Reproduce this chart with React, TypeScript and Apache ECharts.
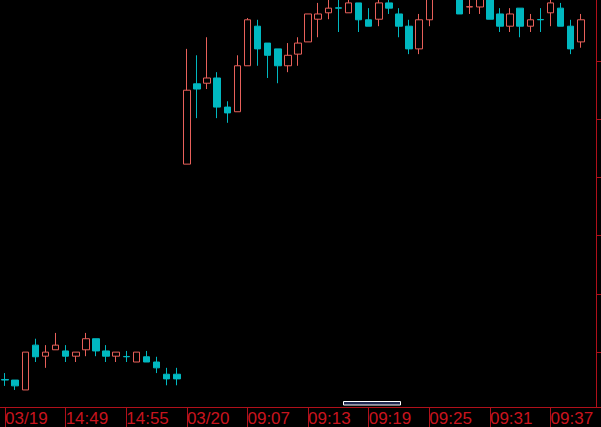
import React, { useEffect, useRef } from "react";
import * as echarts from "echarts";

const categories = [
  "14:43", "14:44", "14:45", "14:46", "14:47", "14:48", "14:49", "14:50", "14:51", "14:52",
  "14:53", "14:54", "14:55", "14:56", "14:57", "14:58", "14:59", "15:00",
  "09:01", "09:02", "09:03", "09:04", "09:05", "09:06", "09:07", "09:08", "09:09", "09:10",
  "09:11", "09:12", "09:13", "09:14", "09:15", "09:16", "09:17", "09:18", "09:19", "09:20",
  "09:21", "09:22", "09:23", "09:24", "09:25", "09:26", "09:27", "09:28", "09:29", "09:30",
  "09:31", "09:32", "09:33", "09:34", "09:35", "09:36", "09:37", "09:38", "09:39", "09:40",
  "09:41",
];

const tickLabels = ["03/19", "14:49", "14:55", "03/20", "09:07", "09:13", "09:19", "09:25", "09:31", "09:37"];

const opens = [
  9.53, 9.52, 9.35, 10.12, 9.93, 10.04, 10.02, 9.93, 10.04, 10.23,
  10.02, 9.93, 9.925, 9.83, 9.92, 9.83, 9.62, 9.62,
  13.23, 14.61, 14.62, 14.71, 14.21, 14.13, 14.92, 15.6, 15.31, 15.21,
  14.92, 15.12, 15.33, 15.72, 15.83, 15.915, 15.83, 16.0, 15.71, 15.72,
  16.0, 15.81, 15.6, 15.21, 15.71, 16.22, 16.39, 16.22, 15.93, 15.93,
  16.19, 15.81, 15.6, 15.91, 15.6, 15.715, 15.83, 15.91, 15.6, 15.33,
];
const closes = [
  9.52, 9.42, 10.0, 9.92, 10.0, 10.12, 9.93, 10.0, 10.23, 10.02,
  9.93, 10.0, 9.92, 10.0, 9.83, 9.73, 9.54, 9.54,
  14.5, 14.52, 14.71, 14.21, 14.11, 14.92, 15.71, 15.21, 15.1, 14.92,
  15.1, 15.31, 15.81, 15.81, 15.91, 15.91, 16.0, 15.71, 15.6, 16.0,
  15.91, 15.6, 15.21, 15.71, 16.14, 16.57, 16.14, 15.81, 15.935, 16.14,
  15.72, 15.6, 15.81, 15.6, 15.71, 15.71, 16.0, 15.6, 15.21, 15.71,
];
const lows = [
  9.42, 9.35, 9.35, 9.83, 9.73, 10.04, 9.83, 9.83, 9.93, 9.93,
  9.83, 9.83, 9.83, 9.83, 9.83, 9.64, 9.43, 9.43,
  13.23, 14.02, 14.52, 14.02, 13.94, 14.13, 14.92, 14.92, 14.71, 14.62,
  14.81, 14.92, 15.33, 15.41, 15.72, 15.5, 15.83, 15.5, 15.6, 15.6,
  15.81, 15.41, 15.12, 15.12, 15.6, 16.12, 16.1, 15.81, 15.81, 15.81,
  15.72, 15.5, 15.5, 15.41, 15.5, 15.5, 15.6, 15.6, 15.12, 15.23,
];
const highs = [
  9.64, 9.52, 10.0, 10.23, 10.12, 10.33, 10.12, 10.0, 10.33, 10.23,
  10.12, 10.0, 10.02, 10.0, 10.02, 9.92, 9.73, 9.73,
  15.21, 15.1, 15.41, 14.81, 14.31, 15.1, 15.74, 15.71, 15.31, 15.21,
  15.31, 15.41, 15.81, 16.0, 16.1, 16.1, 16.1, 16.0, 15.91, 16.08,
  16.08, 15.91, 15.71, 15.81, 16.2, 16.74, 16.57, 16.31, 16.08, 16.2,
  16.25, 15.91, 15.91, 15.91, 15.81, 15.91, 16.08, 16.0, 15.71, 15.81,
];
const priceTicks = [10, 11, 12, 13, 14, 15];

const UP = "#e8605a";
const DOWN = "#00b8c0";
const AXIS = "#b0101a";
const TEXT = "#c8141e";

export default function App() {
  const ref = useRef<HTMLDivElement>(null);
  useEffect(() => {
    if (!ref.current) return;
    const chart = echarts.init(ref.current, undefined, { renderer: "svg" });
    const data = opens.map((o, i) => [o, closes[i], lows[i], highs[i]]);
    chart.setOption({
      animation: false,
      backgroundColor: "#000000",
      grid: { left: -2, right: 5, top: 0, bottom: 20, containLabel: false },
      xAxis: {
        type: "category",
        data: categories,
        boundaryGap: true,
        axisLine: { show: true, lineStyle: { color: AXIS, width: 1 } },
        axisTick: {
          show: true,
          alignWithLabel: true,
          interval: 5,
          length: 20,
          lineStyle: { color: AXIS, width: 1 },
        },
        axisLabel: {
          show: true,
          interval: 5,
          align: "left",
          margin: 3,
          color: TEXT,
          fontSize: 17,
          fontFamily: "Arial, 'Liberation Sans', sans-serif",
          formatter: (_v: string, idx: number) => tickLabels[Math.round(idx / 6)] ?? "",
        },
        splitLine: { show: false },
      },
      yAxis: {
        type: "value",
        position: "right",
        min: 9.057,
        max: 16.05,
        scale: true,
        axisLine: { show: true, lineStyle: { color: AXIS, width: 1 } },
        axisTick: {
          show: true,
          length: 5,
          customValues: priceTicks,
          lineStyle: { color: AXIS, width: 1 },
        },
        axisLabel: { show: false },
        splitLine: { show: false },
      },
      graphic: [
        {
          type: "rect",
          shape: { x: 343.5, y: 401.5, width: 57, height: 3.5 },
          style: { fill: "#1e2850", stroke: "#ffffff", lineWidth: 1 },
        },
        {
          type: "line",
          shape: { x1: 596, y1: 407.5, x2: 601, y2: 407.5 },
          style: { stroke: AXIS, lineWidth: 1 },
        },
      ],
      series: [
        {
          type: "candlestick",
          data,
          barWidth: 7,
          clip: true,
          itemStyle: {
            color: "#000000",
            color0: DOWN,
            borderColor: UP,
            borderColor0: DOWN,
            borderWidth: 1,
          },
        },
      ],
    });
    return () => chart.dispose();
  }, []);
  return (
    <div
      ref={ref}
      style={{ position: "absolute", left: 0, top: 0, width: 601, height: 427, background: "#000" }}
    />
  );
}
